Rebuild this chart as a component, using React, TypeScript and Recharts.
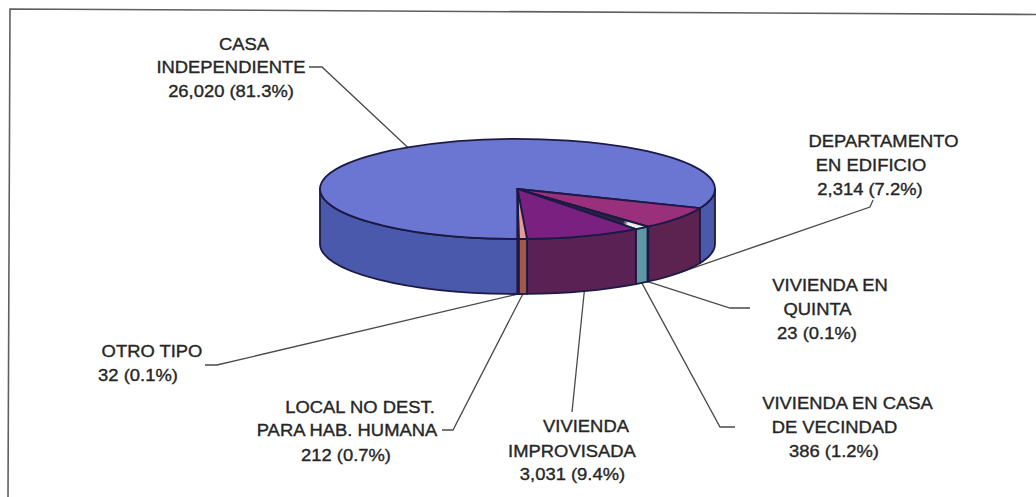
import { PieChart, Pie, Customized } from 'recharts';

const categories = [
  'CASA INDEPENDIENTE',
  'DEPARTAMENTO EN EDIFICIO',
  'VIVIENDA EN QUINTA',
  'VIVIENDA EN CASA DE VECINDAD',
  'VIVIENDA IMPROVISADA',
  'LOCAL NO DEST. PARA HAB. HUMANA',
  'OTRO TIPO',
];
const values = [26020, 2314, 23, 386, 3031, 212, 32];
const labelLines = [
  ['CASA', 'INDEPENDIENTE', '26,020 (81.3%)'],
  ['DEPARTAMENTO', 'EN EDIFICIO', '2,314 (7.2%)'],
  ['VIVIENDA EN', 'QUINTA', '23 (0.1%)'],
  ['VIVIENDA EN CASA', 'DE VECINDAD', '386 (1.2%)'],
  ['VIVIENDA', 'IMPROVISADA', '3,031 (9.4%)'],
  ['LOCAL NO DEST.', 'PARA HAB. HUMANA', '212 (0.7%)'],
  ['OTRO TIPO', '32 (0.1%)'],
];
const topColors = ['#6b76d2', '#9a2f7c', '#2b2440', 'url(#sliver)', '#7a2080', '#e59a92', '#3a2a50'];
const wallColors = ['#4b59ad', '#5c2350', '#5c2350', '#5f97a5', '#5a2155', '#a5584a', '#3a2a50'];

// label layout: centre x and baseline of every text line
const labelPos = [
  [[244, 50], [231, 73], [231, 97]],
  [[883.5, 147], [871, 171], [870, 195]],
  [[830, 291], [817.5, 315], [817, 339]],
  [[847.5, 409], [834.5, 433], [834, 457]],
  [[586, 432], [572, 457], [572.5, 480]],
  [[360, 413], [347, 436], [346, 461]],
  [[152, 357], [138, 381]],
];
// leader lines: elbow and end, the start comes from the slice's mid angle
const leaderEnds = [
  [[322, 67], [309, 67]],
  [[870, 207], [873, 200]],
  [[730, 308], [750, 308]],
  [[720, 427], [735, 427]],
  [[572, 412], [572, 412]],
  [[453, 430], [442, 430]],
  [[217, 365], [205, 365]],
];

const CX = 517.5;
const CY = 189;
const RX = 197.5;
const RY = 50;
const DEPTH = 55;
const OUTLINE = '#1c1a45';

const data = categories.map((name, i) => ({
  name,
  value: values[i],
  fill: topColors[i],
  wall: wallColors[i],
}));

const rimX = (deg: number) => CX + RX * Math.cos((deg * Math.PI) / 180);
const rimY = (deg: number) => CY - RY * Math.sin((deg * Math.PI) / 180);

function TopSlice(props: any) {
  const { startAngle: s, endAngle: e, fill } = props;
  const large = s - e > 180 ? 1 : 0;
  const d = `M${CX},${CY} L${rimX(s)},${rimY(s)} A${RX},${RY} 0 ${large} 1 ${rimX(e)},${rimY(e)} Z`;
  return <path d={d} fill={fill} stroke={OUTLINE} strokeWidth={1.8} strokeLinejoin="round" />;
}

function WallSlice(props: any) {
  const { startAngle: s, endAngle: e, wall } = props;
  // only the part on the front half of the disc has a visible wall
  const parts = [-360, 0, 360]
    .map(k => [Math.min(s, k), Math.max(e, k - 180)])
    .filter(([a, b]) => a > b);
  return (
    <g>
      {parts.map(([a, b], i) => (
        <path
          key={i}
          d={`M${rimX(a)},${rimY(a)} A${RX},${RY} 0 0 1 ${rimX(b)},${rimY(b)} L${rimX(b)},${rimY(b) + DEPTH} A${RX},${RY} 0 0 0 ${rimX(a)},${rimY(a) + DEPTH} Z`}
          fill={wall}
          stroke={OUTLINE}
          strokeWidth={1.8}
          strokeLinejoin="round"
        />
      ))}
    </g>
  );
}

function LeaderLine(props: any) {
  const { startAngle: s, endAngle: e, name } = props;
  const i = categories.indexOf(name);
  const mid = (s + e) / 2;
  const onFront = Math.sin((mid * Math.PI) / 180) < 0;
  const x = rimX(mid);
  const y = rimY(mid) + (onFront ? DEPTH : 0);
  const pts = [[x, y], ...leaderEnds[i]].map(p => p.join(',')).join(' ');
  return <polyline points={pts} fill="none" stroke="#4a4a4a" strokeWidth={1.3} />;
}

function SliceLabel(props: any) {
  const i = props.index;
  return (
    <g>
      {labelLines[i].map((line, j) => (
        <text
          key={j}
          textAnchor="middle"
          transform={`translate(${labelPos[i][j][0]},${labelPos[i][j][1]}) scale(1.115,1)`}
          fontFamily="'Liberation Sans', Arial, sans-serif"
          fontSize={16.5}
          fill="#262626"
          stroke="#262626"
          strokeWidth={0.35}
        >
          {line}
        </text>
      ))}
    </g>
  );
}

function Frame() {
  return (
    <g>
      <defs>
        <linearGradient id="sliver" gradientUnits="userSpaceOnUse" x1={CX} y1={CY} x2={640} y2={229}>
          <stop offset="0.86" stopColor="#2b2440" />
          <stop offset="0.9" stopColor="#e8eee6" />
        </linearGradient>
      </defs>
      <path d="M1036,14.5 L10,9 L8,497" fill="none" stroke="#5f5f5f" strokeWidth={1.6} />
    </g>
  );
}

const pieProps = {
  data,
  dataKey: 'value',
  nameKey: 'name',
  cx: CX,
  cy: CY,
  outerRadius: RX,
  startAngle: 270,
  endAngle: -90,
  isAnimationActive: false,
  rootTabIndex: -1,
};

export default function App() {
  return (
    <div style={{ position: 'absolute', left: 0, top: 0, width: 1036, height: 497, background: '#fff' }}>
      <PieChart width={1036} height={497} margin={{ top: 0, right: 0, bottom: 0, left: 0 }}>
        <Customized component={Frame} />
        <Pie {...pieProps} shape={LeaderLine} />
        <Pie {...pieProps} shape={WallSlice} />
        <Pie {...pieProps} shape={TopSlice} label={SliceLabel} labelLine={false} />
      </PieChart>
    </div>
  );
}
